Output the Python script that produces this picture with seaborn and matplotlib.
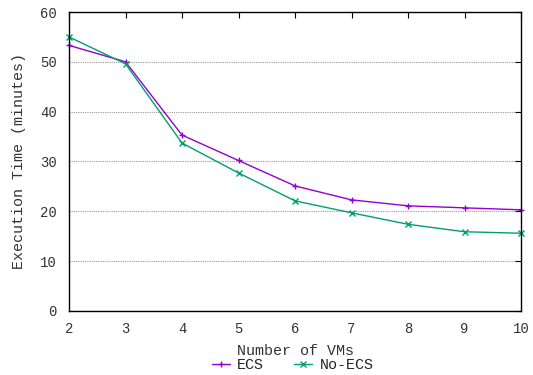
import matplotlib
matplotlib.use("Agg")
import matplotlib.pyplot as plt
import seaborn as sns
import pandas as pd

vms = [2, 3, 4, 5, 6, 7, 8, 9, 10]
ecs = [53.3, 50.0, 35.3, 30.2, 25.1, 22.3, 21.1, 20.7, 20.3]
no_ecs = [55.0, 49.6, 33.7, 27.7, 22.1, 19.7, 17.4, 15.9, 15.6]
series_names = ["ECS", "No-ECS"]
yticks = [0, 10, 20, 30, 40, 50, 60]

df = pd.DataFrame({
    "vms": vms * 2,
    "time": ecs + no_ecs,
    "series": [series_names[0]] * len(vms) + [series_names[1]] * len(vms),
})

sns.set_style("white")
plt.rcParams['font.family'] = ['Liberation Mono', 'DejaVu Sans Mono']

fig = plt.figure(figsize=(5.33, 3.75), dpi=100)
ax = fig.add_axes([0.1295, 0.1707, 0.848, 0.7973])

palette = {"ECS": "#9400D3", "No-ECS": "#009E73"}
sns.lineplot(data=df, x="vms", y="time", hue="series", style="series",
             markers={"ECS": "+", "No-ECS": "x"}, dashes=False,
             palette=palette, ax=ax, linewidth=1.0, markersize=5,
             markeredgewidth=1.0, legend=True)
for ln in ax.lines:
    ln.set_markeredgecolor(ln.get_color())
    ln.set_clip_on(False)

ax.set_xlim(2, 10)
ax.set_ylim(0, 60)
ax.set_xticks(vms)
ax.set_yticks(yticks)
ax.yaxis.grid(True, linestyle=(0, (1, 1)), color="#999999", linewidth=0.8)
ax.set_axisbelow(True)
for s in ax.spines.values():
    s.set_color("black")
    s.set_linewidth(1.0)
ax.tick_params(direction="in", length=4, width=0.8, top=True, right=True,
               labelsize=10, colors="black")
ax.tick_params(axis="x", pad=8)
ax.tick_params(axis="y", pad=9)
for lab in ax.get_xticklabels() + ax.get_yticklabels():
    lab.set_color("#333333")
ax.set_xlabel("Number of VMs", fontsize=10.8, labelpad=6, color="#333333")
ax.set_ylabel("Execution Time (minutes)", fontsize=10.8, labelpad=10, color="#333333")

handles, labels = ax.get_legend_handles_labels()
for h in handles:
    h.set_markeredgecolor(h.get_color())
ax.legend(handles, labels, loc="upper center", bbox_to_anchor=(0.495, -0.158),
          ncol=2, frameon=False, fontsize=10.8, handlelength=1.2,
          handletextpad=0.5, columnspacing=2.0, borderaxespad=0,
          labelspacing=0, borderpad=0)

fig.savefig("out.png", dpi=100)
